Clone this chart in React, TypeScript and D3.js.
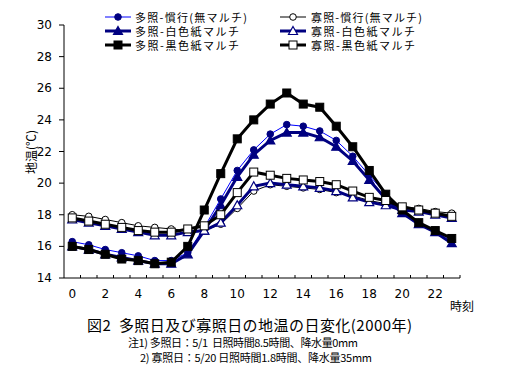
import React from "react";
import * as d3 from "d3";

const hours = d3.range(0, 24);
const tickLabels = [0, 2, 4, 6, 8, 10, 12, 14, 16, 18, 20, 22];
const yTicks = [14, 16, 18, 20, 22, 24, 26, 28, 30];

const seriesNames = [
  "多照-慣行(無マルチ)",
  "寡照-慣行(無マルチ)",
  "多照-白色紙マルチ",
  "寡照-白色紙マルチ",
  "多照-黒色紙マルチ",
  "寡照-黒色紙マルチ",
];

const tashoKanko = [16.3, 16.1, 15.8, 15.6, 15.4, 15.1, 15.1, 15.6, 17.2, 19.0, 20.8, 22.1, 23.1, 23.7, 23.6, 23.3, 22.7, 21.7, 20.5, 19.3, 18.3, 17.5, 17.0, 16.4];
const kashoKanko = [18.0, 17.9, 17.7, 17.5, 17.3, 17.2, 17.1, 17.0, 17.0, 17.4, 18.4, 19.5, 19.9, 19.8, 19.7, 19.6, 19.4, 19.2, 18.9, 18.7, 18.5, 18.4, 18.2, 18.1];
const tashoShiro = [16.0, 15.8, 15.5, 15.3, 15.1, 14.9, 14.9, 15.5, 17.0, 18.6, 20.4, 21.8, 22.7, 23.2, 23.2, 22.9, 22.3, 21.4, 20.2, 19.0, 18.1, 17.4, 16.9, 16.2];
const kashoShiro = [17.7, 17.5, 17.3, 17.1, 16.9, 16.7, 16.7, 16.9, 17.0, 17.5, 18.6, 19.8, 20.0, 19.9, 19.8, 19.7, 19.5, 19.1, 18.8, 18.6, 18.3, 18.2, 18.0, 17.8];
const tashoKuro = [16.0, 15.8, 15.5, 15.2, 15.1, 14.9, 15.0, 16.0, 18.3, 20.6, 22.8, 24.0, 25.0, 25.7, 25.0, 24.8, 23.6, 22.3, 20.8, 19.3, 18.3, 17.5, 17.0, 16.5];
const kashoKuro = [17.8, 17.6, 17.4, 17.2, 17.0, 16.9, 16.9, 17.1, 17.3, 18.0, 19.4, 20.7, 20.5, 20.3, 20.2, 20.1, 19.9, 19.5, 19.1, 18.9, 18.5, 18.3, 18.1, 17.9];

const seriesValues = [tashoKanko, kashoKanko, tashoShiro, kashoShiro, tashoKuro, kashoKuro];

const captionTitle = "図2  多照日及び寡照日の地温の日変化(2000年)";
const captionNotes = [
  "注1) 多照日：5/1  日照時間8.5時間、降水量0mm",
  "2) 寡照日：5/20 日照時間1.8時間、降水量35mm",
];

type Style = { line: string; width: number; marker: "circle" | "triangle" | "square"; fill: string; stroke: string };
const styles: Style[] = [
  { line: "#0000ff", width: 1, marker: "circle", fill: "#000080", stroke: "#000080" },
  { line: "#000000", width: 1, marker: "circle", fill: "#ffffff", stroke: "#000000" },
  { line: "#000080", width: 3, marker: "triangle", fill: "#000080", stroke: "#000080" },
  { line: "#000080", width: 3, marker: "triangle", fill: "#ffffff", stroke: "#000080" },
  { line: "#000000", width: 3, marker: "square", fill: "#000000", stroke: "#000000" },
  { line: "#000000", width: 3, marker: "square", fill: "#ffffff", stroke: "#000000" },
];

const FONT = "'Noto Sans CJK JP', 'DejaVu Sans', sans-serif";

function Marker({ x, y, s }: { x: number; y: number; s: Style }) {
  if (s.marker === "circle") return <circle cx={x} cy={y} r={3.3} fill={s.fill} stroke={s.stroke} strokeWidth={1} />;
  if (s.marker === "square") return <rect x={x - 4} y={y - 4} width={8} height={8} fill={s.fill} stroke={s.stroke} strokeWidth={1} />;
  const p = d3.path();
  p.moveTo(x, y - 4.5);
  p.lineTo(x + 4.5, y + 3.5);
  p.lineTo(x - 4.5, y + 3.5);
  p.closePath();
  return <path d={p.toString()} fill={s.fill} stroke={s.stroke} strokeWidth={1.2} />;
}

export default function App() {
  const W = 517, H = 382;
  const left = 64, right = 460, top = 25, bottom = 278;
  const x = d3.scaleBand<number>().domain(hours).range([left, right]);
  const cx = (h: number) => (x(h) as number) + x.bandwidth() / 2;
  const y = d3.scaleLinear().domain([14, 30]).range([bottom, top]);
  const line = d3.line<number>().x((_, i) => cx(hours[i])).y((v) => y(v));

  const legendRows = [17, 31, 45];
  const legendCols = [{ lx: 105, tx: 135 }, { lx: 280, tx: 311 }];
  const legendLens = [112, 111, 104, 104, 104, 104];

  return (
    <svg width={W} height={H} style={{ position: "absolute", left: 0, top: 0, background: "#fff" }} fontFamily={FONT}>
      <rect width={W} height={H} fill="#fff" />
      <line x1={left} x2={left} y1={top} y2={bottom} stroke="#000" strokeWidth={1} />
      <line x1={left} x2={right} y1={bottom} y2={bottom} stroke="#000" strokeWidth={1} />
      {yTicks.map((t) => (
        <g key={t}>
          <line x1={left - 5} x2={left} y1={y(t)} y2={y(t)} stroke="#000" />
          <text x={52} y={y(t)} textAnchor="end" dominantBaseline="central" fontSize={12} fontFamily="'DejaVu Sans', sans-serif">{t}</text>
        </g>
      ))}
      {d3.range(1, 25).map((i) => {
        const xx = left + x.step() * i;
        return <line key={i} x1={xx} x2={xx} y1={bottom} y2={bottom - 3} stroke="#000" />;
      })}
      {tickLabels.map((t) => (
        <text key={t} x={cx(t)} y={294} textAnchor="middle" dominantBaseline="central" fontSize={12} fontFamily="'DejaVu Sans', sans-serif">{t}</text>
      ))}
      <text x={462} y={305} textAnchor="middle" dominantBaseline="central" fontSize={12}>時刻</text>
      <text transform={`translate(30,152) rotate(-90)`} textAnchor="middle" dominantBaseline="central" fontSize={12}>地温(℃)</text>

      {seriesValues.map((vals, si) => (
        <g key={si}>
          <path d={line(vals) || ""} fill="none" stroke={styles[si].line} strokeWidth={styles[si].width} />
          {vals.map((v, i) => (
            <Marker key={i} x={cx(hours[i])} y={y(v)} s={styles[si]} />
          ))}
        </g>
      ))}

      {seriesNames.map((n, i) => {
        const col = legendCols[i % 2];
        const ry = legendRows[Math.floor(i / 2)];
        const s = styles[i];
        return (
          <g key={n}>
            <line x1={col.lx} x2={col.lx + 26} y1={ry} y2={ry} stroke={s.line} strokeWidth={s.width} />
            <Marker x={col.lx + 13} y={ry} s={s} />
            <text x={col.tx} y={ry} dominantBaseline="central" fontSize={11} textLength={legendLens[i]} lengthAdjust="spacing">{n}</text>
          </g>
        );
      })}

      <text x={87} y={324} dominantBaseline="central" fontSize={15} textLength={325} lengthAdjust="spacing" xmlSpace="preserve">{captionTitle}</text>
      <text x={128} y={342} dominantBaseline="central" fontSize={11} textLength={230} lengthAdjust="spacing" xmlSpace="preserve">{captionNotes[0]}</text>
      <text x={140} y={357} dominantBaseline="central" fontSize={11} textLength={232} lengthAdjust="spacing" xmlSpace="preserve">{captionNotes[1]}</text>
    </svg>
  );
}
